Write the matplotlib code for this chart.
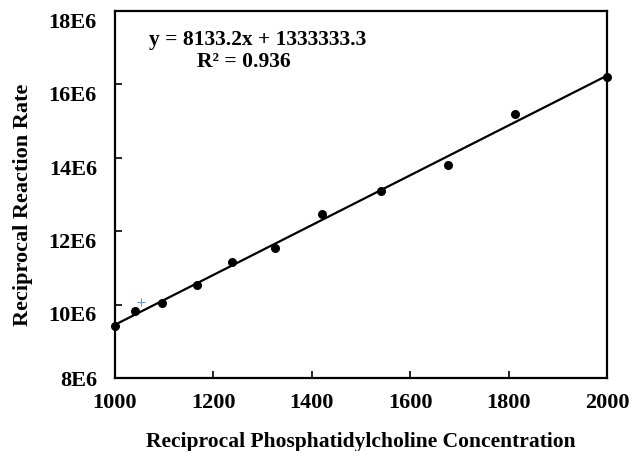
import matplotlib.pyplot as plt
import matplotlib.transforms as mtransforms
import numpy as np

plt.rcParams['font.family'] = ['Liberation Serif', 'DejaVu Serif']
plt.rcParams['font.weight'] = 'bold'

# reciprocal concentration vs reciprocal rate
conc = [1000, 1041, 1096, 1167, 1238, 1325, 1421, 1541, 1677, 1813, 2000]
rate = [9.42e6, 9.83e6, 10.04e6, 10.53e6, 11.16e6, 11.54e6, 12.47e6,
        13.10e6, 13.80e6, 15.19e6, 16.2e6]
stray_x = [1053]
stray_y = [10.07e6]

yticks = [8e6, 10e6, 12e6, 14e6, 16e6, 18e6]
ytick_labels = ['8E6', '10E6', '12E6', '14E6', '16E6', '18E6']
xticks = [1000, 1200, 1400, 1600, 1800, 2000]


def main():
    fig = plt.figure(figsize=(6.44, 4.52), dpi=100)
    ax = fig.add_axes([115 / 644, 1 - 379 / 452, 492 / 644, 367 / 452])

    slope, icpt = np.polyfit(conc, rate, 1)
    xs = np.array([1000, 2000])
    ax.plot(xs, slope * xs + icpt, color='black', lw=1.6, zorder=2)
    ax.scatter(conc, rate, s=30, color='black', zorder=3, clip_on=False)
    ax.plot(stray_x, stray_y, marker='+', color='#6a8fd0', ms=6, mew=0.8, ls='none')

    ax.set_xlim(1000, 2000)
    ax.set_ylim(8e6, 18e6)
    ax.set_xticks(xticks)
    ax.set_yticks(yticks)
    ax.set_yticklabels(ytick_labels)
    ax.tick_params(direction='in', length=5, width=1.2, labelsize=16)
    ax.tick_params(axis='x', pad=10)
    ax.tick_params(axis='y', pad=13)
    # most y tick labels sit a little below their ticks in the reference
    shift = mtransforms.ScaledTranslation(0, -6 / 72, fig.dpi_scale_trans)
    for lab in ax.get_yticklabels()[1:]:
        lab.set_transform(lab.get_transform() + shift)
    for lab in ax.get_xticklabels() + ax.get_yticklabels():
        lab.set_fontweight('bold')
    for sp in ax.spines.values():
        sp.set_linewidth(1.6)

    ax.set_xlabel('Reciprocal Phosphatidylcholine Concentration', fontsize=15.5,
                  fontweight='bold', labelpad=14)
    ax.set_ylabel('Reciprocal Reaction Rate', fontsize=16, fontweight='bold')
    ax.yaxis.set_label_coords(-0.166, 0.474)

    ax.text(0.289, 0.924, 'y = 8133.2x + 1333333.3', transform=ax.transAxes,
            ha='center', va='center', fontsize=15.5, fontweight='bold')
    ax.text(0.262, 0.864, 'R² = 0.936', transform=ax.transAxes,
            ha='center', va='center', fontsize=15.5, fontweight='bold')

    fig.savefig('out.png', dpi=100)


if __name__ == '__main__':
    main()
